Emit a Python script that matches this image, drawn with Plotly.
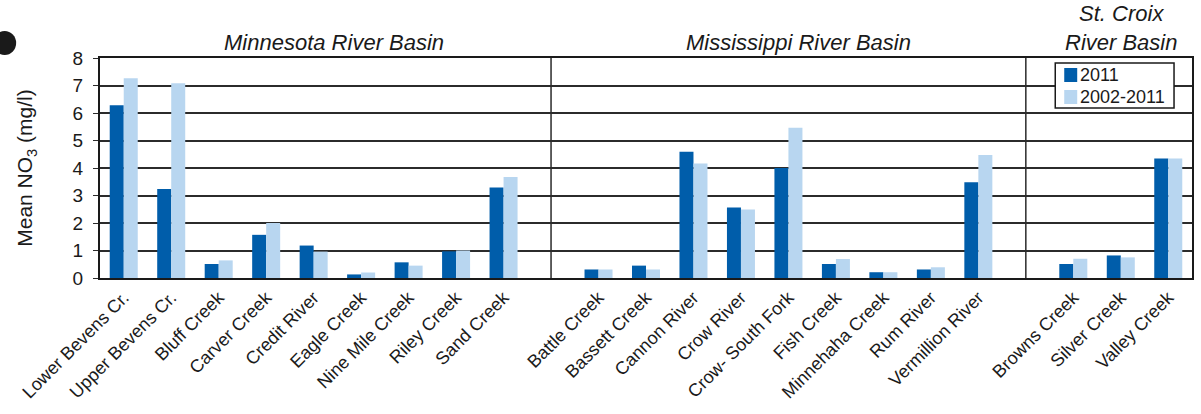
import plotly.graph_objects as go

# Streams grouped by river basin
basins = ["Minnesota River Basin", "Mississippi River Basin", "St. Croix<br>River Basin"]
minnesota_sites = ["Lower Bevens Cr.", "Upper Bevens Cr.", "Bluff Creek", "Carver Creek",
                   "Credit River", "Eagle Creek", "Nine Mile Creek", "Riley Creek", "Sand Creek"]
mississippi_sites = ["Battle Creek", "Bassett Creek", "Cannon River", "Crow River",
                     "Crow- South Fork", "Fish Creek", "Minnehaha Creek", "Rum River",
                     "Vermillion River"]
stcroix_sites = ["Browns Creek", "Silver Creek", "Valley Creek"]

# Mean nitrate (mg/l)
minnesota_2011 = [6.28, 3.24, 0.51, 1.57, 1.18, 0.13, 0.57, 0.97, 3.29]
minnesota_avg = [7.26, 7.08, 0.64, 2.00, 0.96, 0.20, 0.45, 1.00, 3.67]
mississippi_2011 = [0.31, 0.45, 4.59, 2.56, 4.00, 0.51, 0.21, 0.31, 3.48]
mississippi_avg = [0.31, 0.31, 4.16, 2.49, 5.46, 0.69, 0.21, 0.39, 4.47]
stcroix_2011 = [0.51, 0.82, 4.35]
stcroix_avg = [0.70, 0.75, 4.35]

series_names = ["2011", "2002-2011"]
y_ticks = [0, 1, 2, 3, 4, 5, 6, 7, 8]

groups = [(minnesota_sites, minnesota_2011, minnesota_avg),
          (mississippi_sites, mississippi_2011, mississippi_avg),
          (stcroix_sites, stcroix_2011, stcroix_avg)]

# Lay the groups out along a numeric axis with one empty slot between basins
xs, labels, v2011, vavg, dividers, centers = [], [], [], [], [], []
pos = 0
for gi, (sites, a, b) in enumerate(groups):
    start = pos
    for s, va, vb in zip(sites, a, b):
        xs.append(pos)
        labels.append(s)
        v2011.append(va)
        vavg.append(vb)
        pos += 1
    centers.append((start + pos - 1) / 2)
    if gi < len(groups) - 1:
        dividers.append(pos)
        pos += 1
x_max = pos - 0.5

DARK = "#005DAA"
LIGHT = "#B8D6F0"
FONT = "Liberation Sans, Arial, sans-serif"
GRID = "#2b2b2b"
INK = "#1a1a1a"

W, H = 1201, 414
ML, MR, MT, MB = 100, 7, 58, 136
PW, PH = W - ML - MR, H - MT - MB


def px(x):
    return (x - ML) / PW


def py(y):
    return (H - MB - y) / PH


fig = go.Figure()
fig.add_trace(go.Bar(x=xs, y=v2011, name=series_names[0], marker=dict(color=DARK, line=dict(width=0))))
fig.add_trace(go.Bar(x=xs, y=vavg, name=series_names[1], marker=dict(color=LIGHT, line=dict(width=0))))

for d in dividers:
    fig.add_shape(type="line", xref="x", yref="y", x0=d, x1=d, y0=0, y1=8,
                  line=dict(color=GRID, width=1.5), layer="above")

# Basin headings above the plot, nudged right of each group's middle
heading_shift = [0.42, 0.22, 0.0]
for c, dx, title in zip(centers, heading_shift, basins):
    fig.add_annotation(x=c + dx, y=8, xref="x", yref="y", text=title, showarrow=False,
                       yanchor="bottom", yshift=1,
                       font=dict(size=22, family=FONT, style="italic", color=INK))

# Boxed legend in the upper-right corner
fig.add_shape(type="rect", xref="paper", yref="paper",
              x0=px(1057), x1=px(1176), y0=py(108), y1=py(63),
              fillcolor="white", line=dict(color=INK, width=1.5), layer="above")
for i, (name, col) in enumerate(zip(series_names, [DARK, LIGHT])):
    yc = 75 + 22 * i
    fig.add_shape(type="rect", xref="paper", yref="paper",
                  x0=px(1066), x1=px(1079), y0=py(yc + 7), y1=py(yc - 7),
                  fillcolor=col, line=dict(width=0), layer="above")
    fig.add_annotation(x=px(1080), y=py(yc), xref="paper", yref="paper", text=name,
                       showarrow=False, xanchor="left", yanchor="middle",
                       font=dict(size=18, family=FONT, color=INK))

# Filled marker dot in the top-left corner
fig.add_shape(type="circle", xref="paper", yref="paper",
              x0=px(-7), x1=px(16), y0=py(55), y1=py(31),
              fillcolor=INK, line=dict(width=0))

fig.update_layout(
    width=W, height=H,
    margin=dict(l=ML, r=MR, t=MT, b=MB),
    paper_bgcolor="white", plot_bgcolor="white",
    barmode="group", bargap=0.41, bargroupgap=0,
    font=dict(family=FONT, size=16, color=INK),
    showlegend=False,
    xaxis=dict(range=[-0.5, x_max], tickmode="array", tickvals=xs, ticktext=labels,
               tickangle=-45, showgrid=False, ticks="", showline=True, linecolor=INK,
               linewidth=2, mirror=True, tickfont=dict(size=18, family=FONT), zeroline=False),
    yaxis=dict(range=[0, 8], tickvals=y_ticks, showgrid=True, gridcolor=GRID, gridwidth=1.5,
               ticks="outside", ticklen=5, tickcolor=GRID, showline=True, linecolor=INK,
               linewidth=2, mirror=True, zeroline=False, tickfont=dict(size=19, family=FONT),
               ticklabelstandoff=6,
               title=dict(text="Mean NO<sub>3</sub> (mg/l)", font=dict(size=21, family=FONT), standoff=34)),
)

fig.write_html("out.html")
